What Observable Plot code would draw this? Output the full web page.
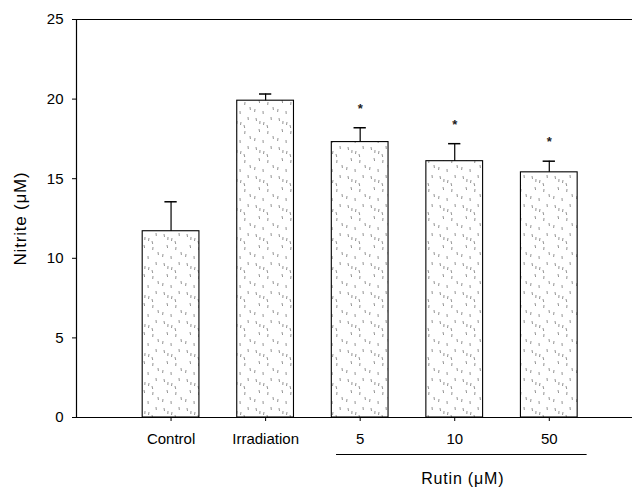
<!DOCTYPE html>
<html>
<head>
<meta charset="utf-8">
<script src="https://cdn.jsdelivr.net/npm/d3@7"></script>
<script src="https://cdn.jsdelivr.net/npm/@observablehq/plot@0.6"></script>
<style>
  html, body { margin: 0; padding: 0; background: #fff; }
  #chart { width: 641px; height: 488px; }
  svg { font-family: "Liberation Sans", Arial, sans-serif; }
  .biglabel text { letter-spacing: 0.8px; }
</style>
</head>
<body>
<div id="chart"></div>
<script>
const categories = ["Control", "Irradiation", "5", "10", "50"];
const means = [11.7, 19.9, 17.3, 16.1, 15.4];
const errors = [1.85, 0.42, 0.9, 1.1, 0.7];
const significant = [false, false, true, true, true];
const yTicks = [0, 5, 10, 15, 20, 25];
const groupLabel = "Rutin (\u03bcM)";
const groupMembers = ["5", "10", "50"];
const yLabel = "Nitrite (\u03bcM)";

const rows = categories.map((c, i) => ({
  cat: c, pos: i + 1, mean: means[i], err: means[i] + errors[i], sig: significant[i]
}));
const barHalf = 0.3, capHalf = 0.065;
const groupRows = rows.filter(r => groupMembers.includes(r.cat));
const gStart = d3.min(groupRows, r => r.pos) - 0.25;
const gEnd = d3.max(groupRows, r => r.pos) + 0.4;
const gMid = (gStart + gEnd) / 2 + 0.01;

const plot = Plot.plot({
  width: 641,
  height: 488,
  marginLeft: 76,
  marginRight: 9,
  marginTop: 19,
  marginBottom: 71,
  style: { fontFamily: "Liberation Sans, Arial, sans-serif", fontSize: "15px", background: "#fff", overflow: "visible" },
  x: { type: "linear", domain: [0, 5.88], axis: null },
  y: { domain: [0, 25], axis: null },
  marks: [
    Plot.rectY(rows, {
      x1: d => d.pos - barHalf, x2: d => d.pos + barHalf, y1: 0, y2: "mean",
      fill: "url(#stipple)", stroke: "#000", strokeWidth: 1.1
    }),
    Plot.ruleX(rows, { x: "pos", y1: "mean", y2: "err", stroke: "#000", strokeWidth: 1.2 }),
    Plot.ruleY(rows, { y: "err", x1: d => d.pos - capHalf, x2: d => d.pos + capHalf, stroke: "#000", strokeWidth: 1.5 }),
    Plot.text(rows.filter(r => r.sig), { x: "pos", y: "err", text: () => "*", dy: -19, fontSize: 13, fontWeight: "bold", fill: "#222" }),
    Plot.ruleY([0, 25], { stroke: "#000", strokeWidth: 1.2 }),
    Plot.ruleX([0], { stroke: "#000", strokeWidth: 1.2 }),
    Plot.axisY({ ticks: yTicks, tickSize: 4, tickPadding: 9, label: null, fontSize: 15, tickFormat: d => String(d) }),
    Plot.axisX({ ticks: rows.map(r => r.pos), tickSize: 4, tickPadding: 12, label: null, fontSize: 15,
      tickFormat: p => categories[p - 1] }),
    Plot.ruleY([0], { x1: gStart, x2: gEnd, dy: 37, stroke: "#000", strokeWidth: 1 }),
    Plot.text([groupLabel], { x: gMid, y: 0, text: d => d, dy: 61, fontSize: 16, fill: "#000", className: "biglabel" }),
    Plot.text([yLabel], { x: 0, y: 12.5, text: d => d, dx: -56, rotate: -90, fontSize: 17, fill: "#000", className: "biglabel" })
  ]
});

// stipple texture (style only)
const ns = "http://www.w3.org/2000/svg";
const defs = document.createElementNS(ns, "defs");
const pat = document.createElementNS(ns, "pattern");
pat.setAttribute("id", "stipple");
pat.setAttribute("patternUnits", "userSpaceOnUse");
pat.setAttribute("width", "23");
pat.setAttribute("height", "29");
const rectBg = document.createElementNS(ns, "rect");
rectBg.setAttribute("width", "23"); rectBg.setAttribute("height", "29"); rectBg.setAttribute("fill", "#fff");
pat.appendChild(rectBg);
const dashes = [[3,2,0.5],[11,6,-0.5],[18,1,0.3],[6,13,0.6],[15,15,-0.3],[20,20,0.4],[2,22,-0.4],[10,24,0.2],[14,9,0.7],[7,5,-0.2]];
dashes.forEach(([x, y, s]) => {
  const l = document.createElementNS(ns, "line");
  l.setAttribute("x1", x); l.setAttribute("y1", y);
  l.setAttribute("x2", x + s); l.setAttribute("y2", y + 3);
  l.setAttribute("stroke", "#777"); l.setAttribute("stroke-width", "0.8");
  pat.appendChild(l);
});
defs.appendChild(pat);
plot.insertBefore(defs, plot.firstChild);

document.getElementById("chart").appendChild(plot);
</script>
</body>
</html>
